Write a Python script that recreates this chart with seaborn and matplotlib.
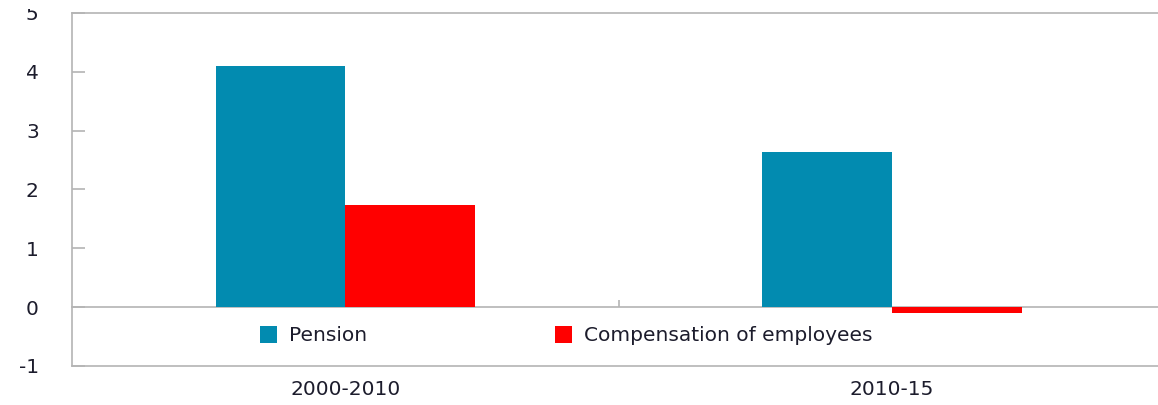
import matplotlib
matplotlib.use("Agg")
import matplotlib.pyplot as plt
from matplotlib.transforms import Bbox, TransformedBbox
import seaborn as sns
import pandas as pd

periods = ["2000-2010", "2010-15"]
series = ["Pension", "Compensation of employees"]
pension = [4.10, 2.63]
compensation = [1.73, -0.10]
yticks = [-1, 0, 1, 2, 3, 4, 5]
colors = ["#028bb0", "#ff0000"]

df = pd.DataFrame({
    "period": periods * 2,
    "series": [series[0]] * len(periods) + [series[1]] * len(periods),
    "value": pension + compensation,
})

sns.set_theme(style="white")
plt.rcParams["font.family"] = ["DejaVu Sans"]
text_color = "#1c1c2c"
spine_color = "#b4b4b4"
fs = 14.5

fig = plt.figure(figsize=(11.58, 4.05), dpi=100)
ax = fig.add_axes([0.0622, 0.0963, 0.944, 0.872])

sns.barplot(data=df, x="period", y="value", hue="series", order=periods,
            hue_order=series, palette=colors, width=0.475, saturation=1,
            linewidth=0, ax=ax)

ax.set_ylim(-1, 5)
ax.set_yticks(yticks)
ax.set_yticklabels([str(t) for t in yticks])
ax.set_xlabel("")
ax.set_ylabel("")

for s in ax.spines.values():
    s.set_color(spine_color)
    s.set_linewidth(1.2)

ax.tick_params(axis="y", direction="in", length=9, width=1.2, color=spine_color,
               labelsize=fs, labelcolor=text_color, pad=24, left=True)
ax.tick_params(axis="x", length=0, labelsize=fs, labelcolor=text_color, pad=10)

# top label is cut off by the image edge in the reference
clip = TransformedBbox(Bbox([[0, 0], [1, 0.978]]), fig.transFigure)
for lab in ax.get_yticklabels():
    lab.set_clip_box(clip)
    lab.set_clip_on(True)

# zero line with category-boundary tick
sec = ax.secondary_xaxis(0, transform=ax.transData)
sec.spines["bottom"].set_color(spine_color)
sec.spines["bottom"].set_linewidth(1.2)
sec.set_xticks([0.5])
sec.set_xticklabels([""])
sec.tick_params(axis="x", direction="in", length=5, width=1.2, color=spine_color)

handles, labels = ax.get_legend_handles_labels()
ax.legend(handles, labels, loc="center left", bbox_to_anchor=(0.172, 0.085), ncol=2,
          frameon=False, fontsize=fs, handlelength=0.85, handleheight=0.85,
          handletextpad=0.6, columnspacing=9.3, borderpad=0, borderaxespad=0,
          labelcolor=text_color)

fig.savefig("out.png", dpi=100)
